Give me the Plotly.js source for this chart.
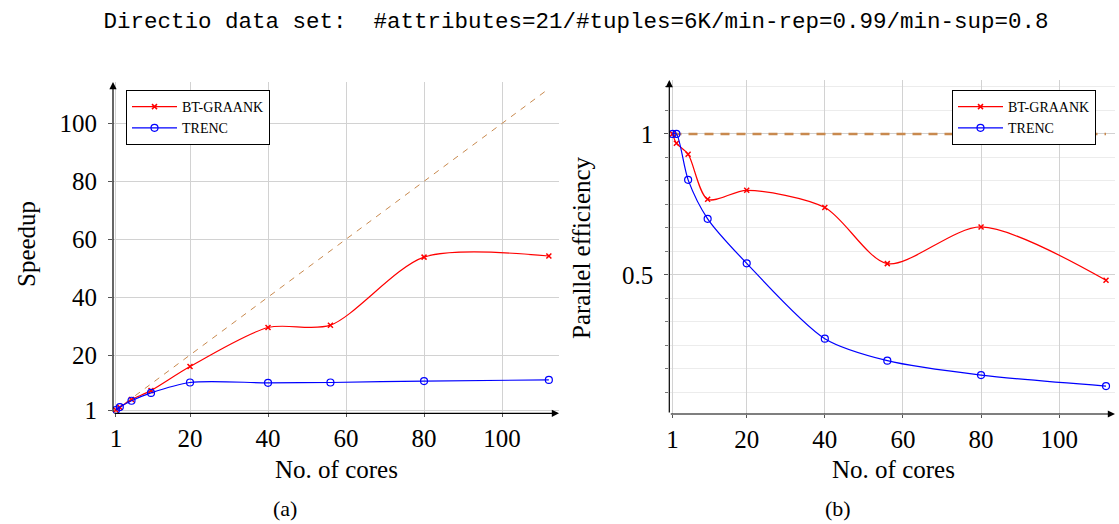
<!DOCTYPE html>
<html>
<head>
<meta charset="utf-8">
<script src="https://cdn.plot.ly/plotly-3.0.1.min.js"></script>
<style>html,body{margin:0;padding:0;background:#fff;}#chart{width:1119px;height:524px;}</style>
</head>
<body>
<div id="chart"></div>
<script>
// ---- data ----
const cores = [1, 2, 5, 10, 20, 40, 56, 80, 112];
const speedupBT = [1, 1.9, 4.6, 7.7, 16, 29.5, 30.3, 53.8, 54.2];
const speedupTRENC = [1, 2, 4.2, 6.9, 10.5, 10.4, 10.5, 11, 11.4];
const effBT = [1, 0.967, 0.928, 0.768, 0.80, 0.739, 0.54, 0.67, 0.481];
const effTRENC = [1, 1.0, 0.837, 0.699, 0.541, 0.274, 0.196, 0.145, 0.106];
const idealX = [1, 112];
const idealSpeedup = [1, 112];
const idealEff = [1, 1];
const xTicks = [1, 20, 40, 60, 80, 100];
const ySpeedTicks = [1, 20, 40, 60, 80, 100];
const yEffTicks = [0.5, 1];
const yEffTickText = ['0.5', '1'];
const names = ['BT-GRAANK', 'TRENC'];

const W = 1119, H = 524;
const px = v => v / W;
const py = v => 1 - v / H;

const serif = 'Liberation Serif, Times New Roman, serif';
const red = '#ff0000', blue = '#0000ff', brown = '#c8894e';

const redLine = {color: red, width: 1.2, shape: 'spline', smoothing: 0.8};
const blueLine = {color: blue, width: 1.2, shape: 'spline', smoothing: 0.8};
const redMarker = {symbol: 'x-thin', size: 5, color: red, line: {color: red, width: 1.5}};
const blueMarker = {symbol: 'circle-open', size: 7, color: blue, line: {color: blue, width: 1.2}};

const traces = [
  {x: idealX, y: idealSpeedup, xaxis: 'x', yaxis: 'y', mode: 'lines', showlegend: false,
   line: {color: brown, width: 1, dash: '6px,6px'}, hoverinfo: 'skip'},
  {x: cores, y: speedupBT, xaxis: 'x', yaxis: 'y', mode: 'lines+markers', name: names[0],
   line: redLine, marker: redMarker, legend: 'legend'},
  {x: cores, y: speedupTRENC, xaxis: 'x', yaxis: 'y', mode: 'lines+markers', name: names[1],
   line: blueLine, marker: blueMarker, legend: 'legend'},
  {x: idealX, y: idealEff, xaxis: 'x2', yaxis: 'y2', mode: 'lines', showlegend: false,
   line: {color: brown, width: 2.5, dash: '9px,7px'}, hoverinfo: 'skip'},
  {x: cores, y: effBT, xaxis: 'x2', yaxis: 'y2', mode: 'lines+markers', name: names[0],
   line: redLine, marker: redMarker, legend: 'legend2'},
  {x: cores, y: effTRENC, xaxis: 'x2', yaxis: 'y2', mode: 'lines+markers', name: names[1],
   line: blueLine, marker: blueMarker, legend: 'legend2'}
];

const gridC = '#d2d2d2';
const tickFont = {family: serif, size: 25, color: '#000'};
function xAxis(domain, range, anchor) {
  return {domain: domain, range: range, anchor: anchor, tickmode: 'array', tickvals: xTicks,
    ticktext: xTicks.map(String), showgrid: true, gridcolor: gridC, gridwidth: 1, zeroline: false,
    showline: false, ticks: 'outside', ticklen: 3, tickcolor: '#555', tickfont: tickFont,
    ticklabelstandoff: 0, fixedrange: true};
}

const layout = {
  width: W, height: H,
  margin: {l: 0, r: 0, t: 0, b: 0},
  paper_bgcolor: '#fff', plot_bgcolor: '#fff',
  title: {text: 'Directio data set:  #attributes=21/#tuples=6K/min-rep=0.99/min-sup=0.8',
    font: {family: 'Liberation Mono, DejaVu Sans Mono, monospace', size: 22.5, color: '#000'},
    xref: 'paper', x: px(576), xanchor: 'center', yref: 'container', y: py(20), yanchor: 'middle'},
  xaxis: xAxis([px(113), px(559)], [0.256, 114.6], 'y'),
  yaxis: {domain: [py(413.3), py(82)], range: [-0.14, 114.3], anchor: 'x', tickmode: 'array',
    tickvals: ySpeedTicks, ticktext: ySpeedTicks.map(String), showgrid: true, gridcolor: gridC,
    zeroline: false, showline: false, ticks: 'outside', ticklen: 4, tickcolor: '#555',
    tickfont: tickFont, ticklabelstandoff: 6, fixedrange: true},
  xaxis2: xAxis([px(669.3), px(1115)], [0.18, 114.3], 'y2'),
  yaxis2: {domain: [py(414), py(80)], range: [0.007, 1.191], anchor: 'x2', tickmode: 'array',
    tickvals: yEffTicks, ticktext: yEffTickText, showgrid: true, gridcolor: gridC,
    zeroline: false, showline: false, ticks: 'outside', ticklen: 4, tickcolor: '#555',
    tickfont: tickFont, ticklabelstandoff: 6, fixedrange: true,
    minor: {dtick: 1 / 12, tick0: 0, showgrid: true, gridcolor: '#ececec', ticks: 'outside',
      ticklen: 3, tickcolor: '#777'}},
  legend: {x: px(126), y: py(90), xanchor: 'left', yanchor: 'top', bgcolor: '#fff',
    bordercolor: '#000', borderwidth: 1, font: {family: serif, size: 14, color: '#000'},
    tracegroupgap: 0, itemwidth: 45},
  legend2: {x: px(952), y: py(90), xanchor: 'left', yanchor: 'top', bgcolor: '#fff',
    bordercolor: '#000', borderwidth: 1, font: {family: serif, size: 14, color: '#000'},
    tracegroupgap: 0, itemwidth: 45},
  showlegend: true,
  annotations: [
    // axis arrows
    {xref: 'paper', yref: 'paper', x: px(559), y: py(413.3), ax: -446, ay: 0, text: '',
     showarrow: true, arrowhead: 2, arrowsize: 1.2, arrowwidth: 1.2, arrowcolor: '#000', standoff: 0},
    {xref: 'paper', yref: 'paper', x: px(113), y: py(82), ax: 0, ay: 331.3, text: '',
     showarrow: true, arrowhead: 2, arrowsize: 1.2, arrowwidth: 1.2, arrowcolor: '#000', standoff: 0},
    {xref: 'paper', yref: 'paper', x: px(1115), y: py(414), ax: -445.7, ay: 0, text: '',
     showarrow: true, arrowhead: 2, arrowsize: 1.2, arrowwidth: 1.2, arrowcolor: '#000', standoff: 0},
    {xref: 'paper', yref: 'paper', x: px(669.3), y: py(80), ax: 0, ay: 334, text: '',
     showarrow: true, arrowhead: 2, arrowsize: 1.2, arrowwidth: 1.2, arrowcolor: '#000', standoff: 0},
    // axis titles
    {xref: 'paper', yref: 'paper', x: px(26), y: py(244), text: 'Speedup', textangle: -90,
     showarrow: false, xanchor: 'center', yanchor: 'middle', font: {family: serif, size: 25, color: '#000'}},
    {xref: 'paper', yref: 'paper', x: px(336), y: py(469), text: 'No. of cores',
     showarrow: false, xanchor: 'center', yanchor: 'middle', font: {family: serif, size: 25, color: '#000'}},
    {xref: 'paper', yref: 'paper', x: px(581), y: py(248), text: 'Parallel efficiency', textangle: -90,
     showarrow: false, xanchor: 'center', yanchor: 'middle', font: {family: serif, size: 25, color: '#000'}},
    {xref: 'paper', yref: 'paper', x: px(893), y: py(469), text: 'No. of cores',
     showarrow: false, xanchor: 'center', yanchor: 'middle', font: {family: serif, size: 25, color: '#000'}},
    // captions
    {xref: 'paper', yref: 'paper', x: px(285), y: py(508), text: '(a)',
     showarrow: false, xanchor: 'center', yanchor: 'middle', font: {family: serif, size: 22, color: '#000'}},
    {xref: 'paper', yref: 'paper', x: px(838), y: py(508), text: '(b)',
     showarrow: false, xanchor: 'center', yanchor: 'middle', font: {family: serif, size: 22, color: '#000'}}
  ]
};

Plotly.newPlot('chart', traces, layout, {displayModeBar: false, staticPlot: true});
</script>
</body>
</html>
